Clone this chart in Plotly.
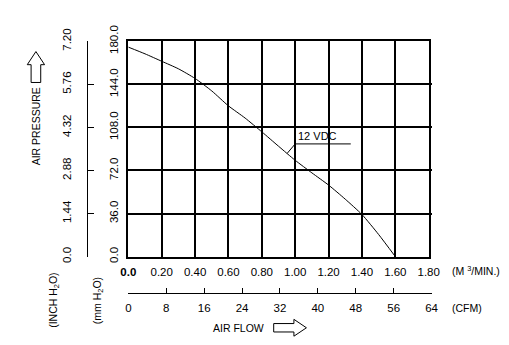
import plotly.graph_objects as go

# ---- data ----
flow_m3min = [0.0, 0.1, 0.2, 0.3, 0.4, 0.5, 0.6, 0.7, 0.8, 0.9, 1.0, 1.1, 1.2, 1.3, 1.4, 1.5, 1.6]
pressure_mmh2o = [175.1, 169.5, 163.3, 157.0, 148.9, 138.5, 126.0, 115.8, 104.3, 92.3, 80.5, 70.0, 59.8, 48.0, 35.2, 18.5, 0.0]
series_label = "12 VDC"

x_ticks_m3 = [0.0, 0.2, 0.4, 0.6, 0.8, 1.0, 1.2, 1.4, 1.6, 1.8]
x_ticktext_m3 = ["<b>0.0</b>", "0.20", "0.40", "0.60", "0.80", "1.00", "1.20", "1.40", "1.60", "1.80"]
y_ticks_mm = [0, 36, 72, 108, 144, 180]
y_ticktext_mm = ["0.0", "36.0", "72.0", "108.0", "144.0", "180.0"]
y_ticks_inch = [0, 1.44, 2.88, 4.32, 5.76, 7.20]
y_ticktext_inch = ["0.0", "1.44", "2.88", "4.32", "5.76", "7.20"]
cfm_ticks = [0, 8, 16, 24, 32, 40, 48, 56, 64]
cfm_ticktext = ["0", "8", "16", "24", "32", "40", "48", "56", "64"]

W, H = 509, 345
FONT = "Liberation Sans, Arial, sans-serif"


def px(x, y):
    return x / W, 1 - y / H


def path(points):
    s = ""
    for i, (x, y) in enumerate(points):
        a, b = px(x, y)
        s += ("M" if i == 0 else "L") + f"{a:.5f},{b:.5f} "
    return s + "Z"


fig = go.Figure()
fig.add_trace(go.Scatter(x=flow_m3min, y=pressure_mmh2o, mode="lines",
                         line=dict(color="black", width=1, shape="spline", smoothing=0.6),
                         hoverinfo="skip"))
# invisible helper traces so the secondary axes are drawn
fig.add_trace(go.Scatter(x=[cfm_ticks[0], cfm_ticks[-1]], y=[0, 0], xaxis="x2", yaxis="y",
                         mode="markers", marker=dict(opacity=0), hoverinfo="skip"))
fig.add_trace(go.Scatter(x=[0, 0], y=[y_ticks_inch[0], y_ticks_inch[-1]], xaxis="x", yaxis="y2",
                         mode="markers", marker=dict(opacity=0), hoverinfo="skip"))

xdom = [125 / W, 437 / W]
ydom = [1 - 257 / H, 1 - 27 / H]

fig.update_layout(
    width=W, height=H, margin=dict(l=0, r=0, t=0, b=0),
    paper_bgcolor="white", plot_bgcolor="rgba(0,0,0,0)", showlegend=False,
    font=dict(family=FONT, size=11, color="black"),
    xaxis=dict(domain=xdom, range=[0, 1.8], tickvals=x_ticks_m3, ticktext=x_ticktext_m3,
               showgrid=True, gridcolor="black", gridwidth=1.6, zeroline=False,
               showline=True, linecolor="black", linewidth=1.6, mirror=True,
               ticks="", ticklabelstandoff=4, tickfont=dict(size=11.5)),
    yaxis=dict(domain=ydom, range=[0, 180], tickvals=y_ticks_mm, ticktext=y_ticktext_mm,
               showgrid=True, gridcolor="black", gridwidth=1.6, zeroline=False,
               showline=True, linecolor="black", linewidth=1.6, mirror=True,
               ticks="", tickangle=-90, ticklabelstandoff=4, tickfont=dict(size=11.5)),
    xaxis2=dict(domain=[125 / W, 440 / W], range=[0, 64], anchor="free", position=1 - 296 / H,
                tickvals=cfm_ticks, ticktext=cfm_ticktext, showgrid=False, zeroline=False,
                showline=True, linecolor="black", linewidth=1, ticks="inside", ticklen=5,
                tickcolor="black", tickwidth=1, ticklabelstandoff=4, tickfont=dict(size=11.5)),
    yaxis2=dict(overlaying="y", anchor="free", position=82 / W, side="left", range=[0, 7.2],
                tickvals=y_ticks_inch, ticktext=y_ticktext_inch, showgrid=False, zeroline=False,
                showline=True, linecolor="black", linewidth=1, ticks="inside", ticklen=6,
                tickcolor="black", tickwidth=1, tickangle=-90, ticklabelstandoff=11,
                tickfont=dict(size=11.5)),
)

# leader line for the curve label
fig.add_shape(type="path", xref="x", yref="y",
              path="M0.952,86.3 L1.0,94.2 L1.333,94.2", line=dict(color="black", width=1))
fig.add_annotation(x=1.0, y=94.2, xref="x", yref="y", text=series_label, showarrow=False,
                   xanchor="left", yanchor="bottom", xshift=1, yshift=0, font=dict(size=11))

# arrows
fig.add_shape(type="path", xref="paper", yref="paper",
              path=path([(29, 38), (38, 52), (34, 52), (34, 71), (24, 71), (24, 52), (20, 52)]),
              line=dict(color="black", width=1))
fig.add_shape(type="path", xref="paper", yref="paper",
              path=path([(276, 328.5), (297, 328.5), (297, 324), (310, 333), (297, 342),
                         (297, 337.5), (276, 337.5)]),
              line=dict(color="black", width=1))


def label(text, x, y, angle=0, anchor="center", size=10.5):
    a, b = px(x, y)
    fig.add_annotation(x=a, y=b, xref="paper", yref="paper", text=text, showarrow=False,
                       textangle=angle, xanchor=anchor, yanchor="middle", font=dict(size=size))


label("AIR PRESSURE", 30, 118, angle=-90)
label("(INCH H<sub>2</sub>O)", 47, 304, angle=-90)
label("(mm H<sub>2</sub>O)", 93, 304, angle=-90)
label("(M <sup>3</sup>/MIN.)", 459, 272, anchor="left")
label("(CFM)", 459, 312, anchor="left")
label("AIR FLOW", 239, 333)

fig.write_html("out.html")
